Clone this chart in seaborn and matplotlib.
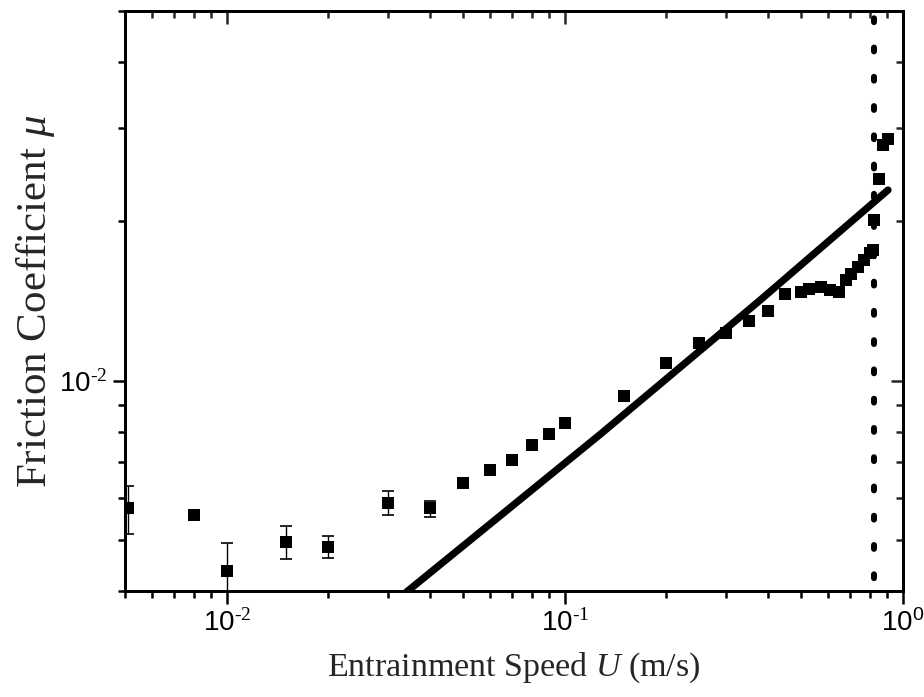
import matplotlib
matplotlib.use("Agg")
import matplotlib.pyplot as plt
import numpy as np
import pandas as pd
import seaborn as sns
from matplotlib.ticker import LogLocator, NullFormatter, FuncFormatter

# Measured friction coefficient vs entrainment speed
speed = [0.0051, 0.008, 0.01, 0.015, 0.02, 0.03, 0.04, 0.05, 0.06, 0.07,
         0.08, 0.09, 0.1, 0.15, 0.2, 0.25, 0.3, 0.35, 0.4, 0.45,
         0.5, 0.53, 0.575, 0.61, 0.65, 0.68, 0.705, 0.74, 0.77, 0.80,
         0.815, 0.825, 0.85, 0.875, 0.905]
friction = [0.00573, 0.00557, 0.00436, 0.00495, 0.00485, 0.00588, 0.00573, 0.0064, 0.00678, 0.00707,
            0.00754, 0.00792, 0.0083, 0.00936, 0.0108, 0.01179, 0.0123, 0.01296, 0.01353, 0.01456,
            0.01471, 0.01489, 0.01503, 0.01482, 0.01471, 0.01548, 0.01594, 0.01641, 0.0169, 0.0174,
            0.01765, 0.02011, 0.02403, 0.02792, 0.02862]

# Standard deviations for the low-speed measurements
err_speed = [0.0051, 0.01, 0.015, 0.02, 0.03, 0.04]
err_friction = [0.00573, 0.00436, 0.00495, 0.00485, 0.00588, 0.00573]
err_size = [0.0006, 0.00056, 0.00035, 0.00023, 0.0003, 0.0002]

# Model prediction
model_speed = [0.03, 0.127, 0.378, 0.905]
model_friction = [0.00373, 0.0079, 0.01418, 0.02293]

# Transition speed
transition_speed = 0.82

x_ticks = [0.01, 0.1, 1.0]
y_ticks = [0.01]

sns.set_theme(style="ticks")
plt.rcParams.update({
    "font.family": ["Liberation Serif", "DejaVu Serif"],
    "mathtext.fontset": "custom",
    "mathtext.rm": "Liberation Serif",
    "mathtext.it": "Liberation Serif:italic",
    "axes.linewidth": 2.0,
    "axes.edgecolor": "black",
})

df = pd.DataFrame({"speed": speed, "friction": friction})
model = pd.DataFrame({"speed": model_speed, "friction": model_friction})

fig = plt.figure(figsize=(9.24, 6.97), dpi=100)
ax = fig.add_axes([0.1353, 0.1521, 0.9769 - 0.1353, 0.9842 - 0.1521])
ax.set_xscale("log")
ax.set_yscale("log")
ax.set_xlim(0.005, 1.0)
ax.set_ylim(0.004, 0.05)

sns.lineplot(data=model, x="speed", y="friction", ax=ax, color="black",
             linewidth=5.2, solid_capstyle="round", solid_joinstyle="round",
             sort=True, zorder=3)

ax.errorbar(err_speed, err_friction, yerr=err_size, fmt="none", ecolor="black",
            elinewidth=1.0, capsize=4.3, capthick=1.2, zorder=2)

sns.scatterplot(data=df, x="speed", y="friction", ax=ax, marker="s", s=82,
                color="black", edgecolor="black", linewidth=0, zorder=4)

ax.axvline(transition_speed, color="black", linewidth=4.3,
           linestyle=(2.75, (0.65, 4.25)), dash_capstyle="round", zorder=3)

ax.set_xlabel("Entrainment Speed $U$ (m/s)", fontsize=24.5, labelpad=10)
ax.set_ylabel("Friction Coefficient $\\mu$", fontsize=31, labelpad=1)


def decade_label(v, pos):
    e = int(round(np.log10(v)))
    if e < 0:
        return "$\\mathdefault{10^{\\text{-%d}}}$" % (-e)
    return "$\\mathdefault{10^{%d}}$" % e


fmt = FuncFormatter(decade_label)
ax.set_xticks(x_ticks)
ax.set_yticks(y_ticks)
ax.xaxis.set_minor_locator(LogLocator(base=10, subs=np.arange(2, 10)))
ax.yaxis.set_minor_locator(LogLocator(base=10, subs=np.arange(2, 10)))
ax.xaxis.set_major_formatter(fmt)
ax.yaxis.set_major_formatter(fmt)
ax.xaxis.set_minor_formatter(NullFormatter())
ax.yaxis.set_minor_formatter(NullFormatter())
ax.tick_params(which="both", direction="out", width=1.8, color="black",
               labelsize=20, labelfontfamily="Liberation Sans", labelcolor="black")
ax.tick_params(which="major", length=9, pad=4)
ax.tick_params(which="minor", length=5)

# mirrored inward ticks on top and right
axt = ax.twiny()
axt.set_xscale("log")
axt.set_xlim(ax.get_xlim())
axt.set_xticks(x_ticks)
axt.xaxis.set_minor_locator(LogLocator(base=10, subs=np.arange(2, 10)))
axt.tick_params(which="both", direction="in", width=1.8, labeltop=False)
axt.tick_params(which="major", length=9)
axt.tick_params(which="minor", length=5)

axr = ax.twinx()
axr.set_yscale("log")
axr.set_ylim(ax.get_ylim())
axr.set_yticks(y_ticks)
axr.yaxis.set_minor_locator(LogLocator(base=10, subs=np.arange(2, 10)))
axr.tick_params(which="both", direction="in", width=1.8, labelright=False)
axr.tick_params(which="major", length=9)
axr.tick_params(which="minor", length=5)

for a in (ax, axt, axr):
    for s in a.spines.values():
        s.set_linewidth(2.0)
        s.set_color("black")

fig.savefig("out.png", dpi=100)
